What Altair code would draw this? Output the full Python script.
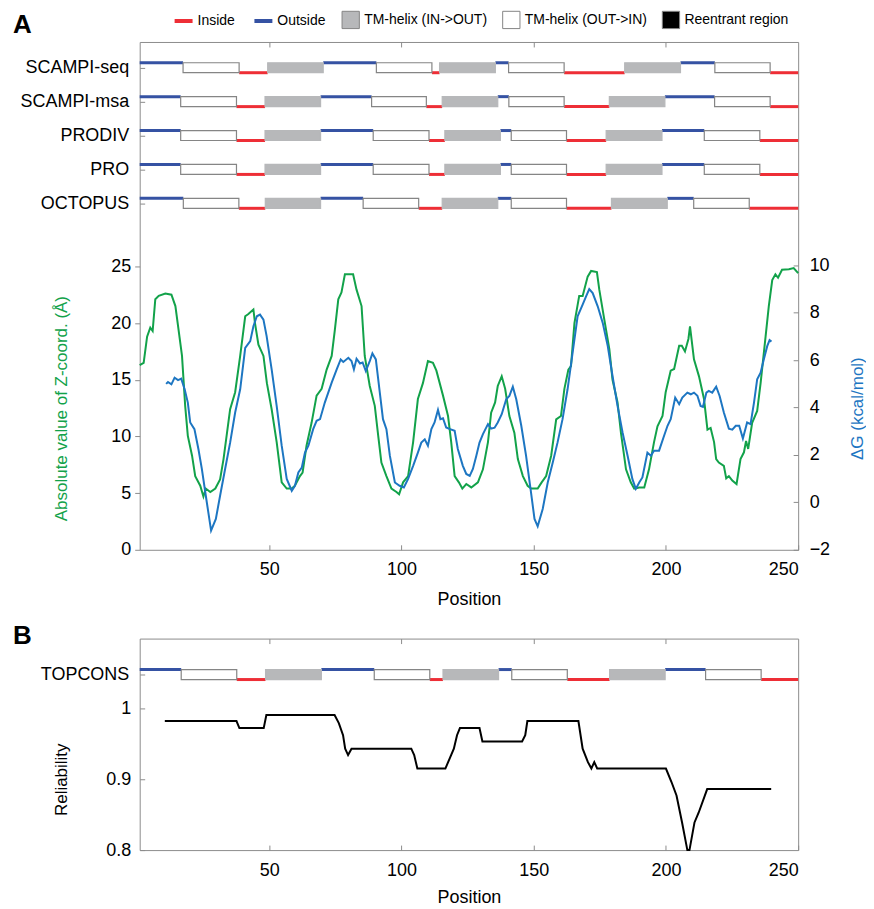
import json
import altair as alt
import pandas as pd

# ---------------- data ----------------
Z_POS = [1, 2.5, 3.8, 5, 5.9, 6.9, 8.2, 10.7, 13, 14.5, 15.7, 17, 18.2, 19.2, 20.8, 22, 23.9, 25.1, 26, 27.7,
         29.6, 31.4, 32.7, 35.2, 37.1, 39, 40.9, 42.1, 44, 44.6, 45.9, 47.8, 49.1, 50.9, 52.8, 54.7, 56.6, 58.5,
         59.7, 61.6, 62.6, 64.1, 66, 67.9, 69.8, 71.7, 73.6, 74.8, 76.1, 77.3, 78.6, 81.7, 83, 84.9, 86.1, 88,
         89.9, 91.2, 92.4, 94.3, 96.2, 98.1, 99.1, 100.6, 102.5, 104.4, 106.2, 108.1, 110, 111.9, 113.2, 115.7,
         117.6, 118.8, 120.1, 121.7, 123, 124.5, 126.4, 128.9, 130.8, 132.7, 133.9, 135.4, 136.4, 137.9, 139.2,
         140.8, 142.7, 144, 145.9, 147.7, 149, 151.5, 153, 154.7, 156.6, 158.5, 160.3, 161.6, 163.1, 164.1,
         165.4, 167.2, 168.5, 170.4, 171.7, 173.9, 174.8, 176.7, 178.6, 179.8, 181.7, 183, 184.9, 186.7, 188,
         189.9, 191.8, 193.6, 195.5, 196.8, 198.7, 199.9, 201.8, 203.1, 205, 206, 207.2, 208.5, 209.1, 210.6,
         212.5, 214.4, 215.7, 216.9, 218.2, 219, 220, 221.9, 222.8, 223.8, 225.1, 226.7, 228.2, 229.5, 230.3,
         231.1, 232.6, 234.5, 235.8, 237.7, 238.9, 240.2, 241.4, 242.4, 243.9, 246.5, 248.3, 250]
Z_VAL = [16.3, 16.5, 18.8, 19.6, 19.3, 22.1, 22.4, 22.6, 22.5, 21.5, 19.4, 17.1, 12.7, 10.05, 8.3, 6.5, 5.65,
         4.7, 5.4, 5.1, 5.4, 6.2, 8.0, 12.4, 13.9, 17.1, 20.6, 20.8, 21.2, 20.0, 18.1, 17.1, 14.7, 12.4, 9.5,
         5.95, 5.4, 5.4, 5.65, 6.5, 6.8, 9.2, 11.2, 13.6, 14.2, 15.9, 17.1, 19.4, 22.1, 22.7, 24.3, 24.3, 22.95,
         21.5, 17.1, 14.45, 12.7, 10.05, 7.7, 6.5, 5.4, 5.1, 4.9, 5.95, 6.5, 9.5, 13.3, 14.7, 16.65, 16.5, 15.8,
         13.6, 11.8, 9.5, 6.5, 5.95, 5.4, 5.8, 5.5, 5.95, 7.1, 9.5, 12.1, 13.0, 14.45, 15.3, 14.2, 11.8, 10.3,
         8.0, 6.5, 5.65, 5.4, 5.4, 5.95, 6.5, 8.3, 11.5, 11.8, 14.2, 15.9, 16.2, 20.0, 22.4, 22.4, 24.1, 24.6,
         24.5, 22.95, 20.3, 17.7, 15.0, 13.0, 10.3, 7.1, 5.95, 5.4, 5.5, 5.5, 7.1, 9.5, 10.9, 11.8, 13.9, 15.8,
         15.95, 18.0, 18.0, 17.5, 18.6, 19.7, 16.8, 15.3, 13.3, 10.6, 10.75, 9.5, 8.0, 7.7, 7.4, 6.3, 6.5, 6.1,
         5.8, 8.0, 8.6, 9.6, 8.9, 11.2, 12.25, 14.7, 18.85, 21.5, 23.8, 24.3, 24.0, 24.7, 24.75, 24.85, 24.4]

DG_POS = [11, 11.7, 13, 14.2, 15.5, 16.7, 18, 19.2, 20.1, 21.7, 23.2, 24.5, 26, 28, 29.8, 31.4, 33.3, 35.2,
          37.1, 39, 40.9, 42.8, 44, 45.3, 46.5, 47.8, 49, 50.9, 52.8, 54.7, 56.6, 58.5, 59.7, 61, 62.3, 63.5,
          64.8, 66.6, 67.9, 69.2, 71, 73.6, 75.5, 77, 78, 79.9, 81.1, 82, 83, 84.3, 85.3, 86.5, 88, 89, 90.3,
          91.8, 93, 94.3, 95.6, 97.5, 99.3, 100.9, 102.5, 104.4, 106.2, 107.5, 108.8, 110, 111.3, 112.5, 113.8,
          114.7, 115.7, 116.9, 118.1, 120.1, 121.3, 123.2, 124.5, 125.8, 127, 128.3, 129.5, 130.8, 132.7,
          133.9, 135.2, 136.4, 137.9, 139.6, 140.8, 142.1, 143.4, 145.3, 147.1, 148.8, 150.3, 151.5, 153.4,
          155.3, 157.2, 159, 160.9, 162.8, 164.7, 166.6, 168.5, 169.8, 171, 172.3, 174.2, 176.1, 178, 179.8,
          181.7, 183.6, 185.5, 187.3, 188.6, 189.9, 191.1, 193, 194.3, 195.5, 197.4, 199.3, 200.6, 201.8,
          203.5, 205, 206.2, 208.1, 209.4, 210.6, 211.9, 213.1, 214, 215.3, 216.2, 217.5, 219, 220.3, 221.9,
          223.8, 225.1, 226.4, 227.7, 229.1, 230.7, 232, 233.3, 234.5, 235.8, 237, 238.3, 239.2, 239.9]
DG_VAL = [5.0, 5.08, 4.98, 5.26, 5.16, 5.22, 4.77, 4.21, 3.37, 3.09, 2.25, 1.41, 0.28, -1.19, -0.70, 0.28,
          1.41, 2.52, 3.79, 4.77, 6.52, 6.80, 7.43, 7.85, 7.92, 7.71, 7.01, 5.61, 4.07, 2.39, 0.99, 0.49, 0.70,
          1.26, 1.47, 2.1, 2.39, 3.09, 3.44, 3.51, 4.21, 5.05, 5.61, 6.03, 5.92, 6.10, 5.96, 5.61, 6.06, 5.86,
          5.9, 5.54, 5.96, 6.28, 6.03, 4.63, 3.51, 3.09, 1.97, 0.84, 0.70, 0.63, 0.99, 1.54, 2.10, 2.52, 2.66,
          2.39, 3.09, 3.37, 3.90, 3.51, 3.55, 3.16, 3.1, 3.02, 2.25, 1.54, 1.20, 1.12, 1.41, 1.97, 2.52, 2.88,
          3.30, 3.11, 3.15, 3.37, 3.72, 4.35, 4.49, 4.88, 4.35, 3.23, 1.97, 0.57, -0.70, -1.01, -0.28, 0.84,
          1.68, 2.52, 3.51, 4.77, 6.31, 7.85, 8.34, 8.69, 9.0, 8.83, 8.27, 7.57, 6.59, 5.33, 4.07, 2.95, 1.97,
          0.99, 0.57, 0.84, 1.05, 2.10, 1.97, 2.18, 2.18, 2.81, 3.23, 3.51, 4.42, 4.14, 4.42, 4.63, 4.56, 4.63,
          4.5, 4.07, 4.03, 4.63, 4.7, 4.63, 4.88, 4.49, 3.79, 3.11, 3.07, 3.23, 3.23, 2.69, 3.37, 3.3, 4.21,
          5.19, 5.47, 6.03, 6.59, 6.84, 6.78]

REL_POS = [10.5, 37.6, 38.7, 47.9, 48.9, 74.7, 76.3, 77.9, 78.7, 79.8, 81.1, 103.7, 104.8, 106, 116.6, 118.2,
           119.8, 121, 122.1, 129.5, 130.6, 145.6, 146.8, 147.6, 166.9, 168.5, 170.5, 171.8, 172.9, 174, 200,
           202.1, 204, 206.1, 208.1, 208.9, 210.8, 212.4, 215.6, 239.8]
REL_VAL = [0.982, 0.982, 0.972, 0.972, 0.9905, 0.9905, 0.979, 0.962, 0.943, 0.934, 0.943, 0.943, 0.934, 0.915,
           0.915, 0.929, 0.943, 0.962, 0.972, 0.972, 0.953, 0.953, 0.962, 0.982, 0.982, 0.943, 0.924, 0.915,
           0.924, 0.915, 0.915, 0.896, 0.877, 0.839, 0.80, 0.80, 0.839, 0.853, 0.886, 0.886]

METHODS_A = ["SCAMPI-seq", "SCAMPI-msa", "PRODIV", "PRO", "OCTOPUS"]
METHODS_B = ["TOPCONS"]
BOUNDS = {
    "SCAMPI-seq": [1, 17.4, 38.6, 49.4, 70.4, 90.5, 111.5, 114.4, 135.5, 140.5, 161.5, 184.4, 205.5, 218.5, 239.4, 250],
    "SCAMPI-msa": [1, 16.5, 37.6, 48.4, 69.4, 88.7, 109.4, 115.4, 136.4, 140.6, 161.5, 178.6, 199.6, 218.4, 239.4, 250],
    "PRODIV":     [1, 16.5, 37.6, 48.4, 69.4, 89.3, 110.4, 116.4, 137.4, 141.5, 162.4, 177.4, 198.5, 214.5, 235.5, 250],
    "PRO":        [1, 16.5, 37.6, 48.4, 69.4, 89.3, 110.4, 116.4, 137.4, 141.5, 162.4, 177.4, 198.5, 214.5, 235.5, 250],
    "OCTOPUS":    [1, 17.5, 38.5, 48.5, 69.4, 85.5, 106.5, 115.4, 136.4, 141.5, 162.4, 179.4, 200.5, 210.5, 231.5, 250],
    "TOPCONS":    [1, 16.7, 37.7, 48.6, 69.7, 89.7, 110.7, 115.7, 136.7, 141.7, 162.7, 178.7, 199.7, 215.0, 236.0, 250],
}
SEG_TYPES = (["Outside", "TM-helix (OUT->IN)", "Inside", "TM-helix (IN->OUT)"] * 4)[:15]
LINE_TYPES = ["Inside", "Outside"]
BOX_TYPES = ["TM-helix (IN->OUT)", "TM-helix (OUT->IN)", "Reentrant region"]

# ---------------- styles ----------------
FONT = "Liberation Sans"
RED = "#ee2e36"
BLUE_T = "#3552a3"
GRAY = "#b7b8ba"
BORDER = "#858585"
GREEN = "#12a24a"
BLUE_L = "#1d76c2"
H = 0.147  # half height of a topology track (track-scale units)
TK = 5     # tick length; inward ticks are made with a negative axis offset

XS = alt.Scale(domain=[1, 250], nice=False, zero=False)
STROKE_SCALE = alt.Scale(domain=LINE_TYPES, range=[RED, BLUE_T])
FILL_SCALE = alt.Scale(domain=BOX_TYPES, range=[GRAY, "#ffffff", "#000000"])


def seg_df(methods):
    rows = []
    for k, m in enumerate(methods):
        b = BOUNDS[m]
        for i, t in enumerate(SEG_TYPES):
            rows.append(dict(method=m, k=k, start=b[i], end=b[i + 1], type=t))
    return pd.DataFrame(rows)


def track_layer(methods, ydomain, with_legend):
    df = seg_df(methods)
    yscale = alt.Scale(domain=ydomain, reverse=True, nice=False, zero=False)
    yaxis = alt.Axis(values=list(range(len(methods))), labelExpr=json.dumps(methods) + "[datum.value]",
                     orient="left", title=None, grid=False, domain=False, ticks=True, tickSize=TK,
                     offset=-TK, labelFontSize=18, labelPadding=6 + TK)
    xaxis = alt.Axis(orient="top", values=[50, 100, 150, 200], labels=False, domain=False, ticks=True,
                     tickSize=TK, offset=-TK, title=None, grid=False)
    base = alt.Chart(df)
    if with_legend:
        leg_lines = alt.Legend(orient="none", legendX=33, legendY=-32, direction="horizontal", title=None,
                               labelFontSize=14, symbolType="stroke", symbolSize=324, symbolStrokeWidth=4,
                               labelOffset=3, columnPadding=11)
        leg_boxes = alt.Legend(orient="none", legendX=202, legendY=-32, direction="horizontal", title=None,
                               labelFontSize=14, symbolType="square", symbolSize=300, symbolStrokeWidth=1,
                               symbolStrokeColor=BORDER, labelOffset=4, columnPadding=12)
    else:
        leg_lines = None
        leg_boxes = None
    lines = base.transform_filter(
        "datum.type == 'Inside' || datum.type == 'Outside'"
    ).transform_calculate(
        yl=f"datum.k + (datum.type == 'Inside' ? {H} : -{H})"
    ).mark_rule(strokeWidth=3).encode(
        x=alt.X("start:Q", scale=XS, axis=xaxis),
        x2="end:Q",
        y=alt.Y("yl:Q", scale=yscale, axis=yaxis),
        stroke=alt.Stroke("type:N", scale=STROKE_SCALE, legend=leg_lines),
    )
    boxes = base.transform_filter(
        "indexof(datum.type, 'TM') == 0"
    ).transform_calculate(
        ya=f"datum.k - {H}", yb=f"datum.k + {H}"
    ).mark_rect(strokeWidth=1.2).encode(
        x=alt.X("start:Q", scale=XS, axis=xaxis),
        x2="end:Q",
        y=alt.Y("ya:Q", scale=yscale, axis=yaxis),
        y2="yb:Q",
        fill=alt.Fill("type:N", scale=FILL_SCALE, legend=leg_boxes),
        stroke=alt.condition("datum.type == 'TM-helix (OUT->IN)'", alt.value(BORDER), alt.value(GRAY)),
    )
    return alt.layer(lines, boxes)


def bottom_axis(title_pad):
    return alt.Axis(values=[50, 100, 150, 200, 250], title="Position", tickSize=TK, offset=-TK,
                    labelPadding=6 + TK, labelFontSize=18, titleFontSize=18, titlePadding=title_pad,
                    grid=False, domain=False)


# ---------------- panel A ----------------
z_line = alt.Chart(pd.DataFrame({"pos": Z_POS, "z": Z_VAL})).mark_line(color=GREEN, strokeWidth=2).encode(
    x=alt.X("pos:Q", scale=XS, axis=bottom_axis(12)),
    y=alt.Y("z:Q", scale=alt.Scale(domain=[0, 44.8], nice=False, zero=False),
            axis=alt.Axis(values=[0, 5, 10, 15, 20, 25], title="Absolute value of Z-coord. (Å)",
                          titleColor=GREEN, titleFontSize=17, titleAngle=270,
                          titleX=-78, titleY=367, titleAlign="center", titleBaseline="middle",
                          tickSize=TK, labelPadding=4, labelFontSize=18, grid=False, domain=False)),
)
dg_line = alt.Chart(pd.DataFrame({"pos": DG_POS, "dg": DG_VAL})).mark_line(color=BLUE_L, strokeWidth=2).encode(
    x=alt.X("pos:Q", scale=XS, axis=None),
    y=alt.Y("dg:Q", scale=alt.Scale(domain=[-2, 19.42], nice=False, zero=False),
            axis=alt.Axis(orient="right", values=[-2, 0, 2, 4, 6, 8, 10], title="ΔG (kcal/mol)",
                          titleColor=BLUE_L, titleFontSize=17, titleAngle=270,
                          titleX=59 + TK, titleY=367, titleAlign="center", titleBaseline="middle",
                          tickSize=TK, offset=-TK, labelPadding=6 + TK, labelFontSize=18,
                          grid=False, domain=False)),
)
panel_a = alt.layer(
    z_line, dg_line, track_layer(METHODS_A, [-0.76, 14.22], True)
).resolve_scale(y="independent").resolve_axis(x="independent").properties(
    width=660, height=509,
    title=alt.TitleParams("A", anchor="start", frame="group", fontSize=26, fontWeight="bold", dx=-127, offset=-28),
)

# ---------------- panel B ----------------
rel_line = alt.Chart(pd.DataFrame({"pos": REL_POS, "rel": REL_VAL})).mark_line(color="black", strokeWidth=2).encode(
    x=alt.X("pos:Q", scale=XS, axis=bottom_axis(10)),
    y=alt.Y("rel:Q", scale=alt.Scale(domain=[0.8, 1.0982], nice=False, zero=False),
            axis=alt.Axis(values=[0.8, 0.9, 1.0], format="~g", title="Reliability", titleColor="black",
                          titleFontSize=17, titleAngle=270, titleX=-78 - TK, titleY=141,
                          titleAlign="center", titleBaseline="middle", tickSize=TK, offset=-TK,
                          labelPadding=4 + TK, labelFontSize=18, grid=False, domain=False)),
)
panel_b = alt.layer(
    rel_line, track_layer(METHODS_B, [-1.059, 5.167], False)
).resolve_scale(y="independent").resolve_axis(x="independent").properties(
    width=660, height=212,
    title=alt.TitleParams("B", anchor="start", frame="group", fontSize=26, fontWeight="bold", dx=-127, offset=-11),
)

chart = alt.vconcat(panel_a, panel_b, spacing=13).resolve_scale(
    stroke="independent", fill="independent"
).configure(
    font=FONT, padding={"left": 4, "top": 0, "right": 0, "bottom": 0},
).configure_view(
    stroke="#8c8c8c", strokeWidth=1
).configure_axis(
    labelFont=FONT, titleFont=FONT, labelColor="black", tickColor="#8c8c8c", titleFontWeight="normal"
).configure_legend(
    labelFont=FONT, labelColor="black"
).configure_title(
    font=FONT, color="black"
)

chart.save("out.html", embed_options={"renderer": "svg", "actions": False})
